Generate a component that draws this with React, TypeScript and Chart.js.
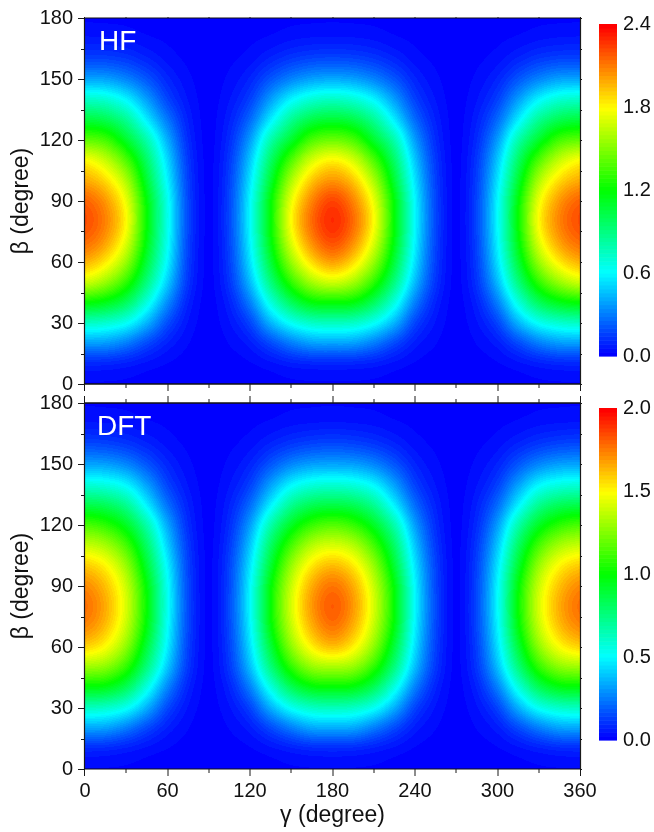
import React, { useEffect, useRef } from "react";
import { Chart, registerables } from "chart.js";

Chart.register(...registerables);

const gammaValues = [0, 15, 30, 45, 60, 75, 90, 105, 120, 135, 150, 165, 180, 195, 210, 225, 240, 255, 270, 285, 300, 315, 330, 345, 360];
const betaValues = [0, 10, 20, 30, 40, 50, 60, 70, 80, 90, 100, 110, 120, 130, 140, 150, 160, 170, 180];

// HF: values along beta, at given gamma
const hfEdge = [.01, .09, .37, .74, 1.2, 1.68, 1.98, 2.15, 2.22, 2.17, 2.0, 1.8, 1.42, 1.06, .73, .39, .16, .05, .01];
const hfEdge15 = [.01, .085, .36, .71, 1.14, 1.55, 1.84, 2.02, 2.09, 2.04, 1.88, 1.66, 1.35, 1.01, .7, .38, .155, .047, .009];
const hf30 = [.008, .065, .29, .62, .98, 1.3, 1.55, 1.72, 1.8, 1.75, 1.6, 1.38, 1.1, .85, .58, .31, .13, .037, .008];
const hf45 = [.004, .035, .17, .42, .67, .9, 1.06, 1.16, 1.2, 1.18, 1.08, .96, .79, .56, .37, .2, .08, .02, .004];
const hfEdge60 = [.002, .014, .07, .18, .33, .48, .58, .63, .65, .64, .58, .51, .41, .28, .16, .085, .033, .009, .002];
const hf60 = [.002, .012, .06, .16, .3, .44, .53, .58, .6, .59, .54, .47, .37, .25, .15, .08, .03, .008, .002];
const hf75 = [.001, .003, .016, .04, .075, .12, .145, .16, .17, .165, .15, .13, .1, .07, .042, .022, .008, .002, .001];
const hf90 = [0, .001, .003, .005, .006, .007, .008, .008, .008, .008, .008, .007, .006, .005, .004, .003, .002, .001, 0];
const hf165 = [.01, .08, .37, .73, 1.17, 1.58, 1.88, 2.07, 2.15, 2.09, 1.93, 1.7, 1.37, 1.03, .7, .38, .16, .047, .009];
const hf180 = [.01, .085, .38, .75, 1.2, 1.68, 2.02, 2.22, 2.3, 2.24, 2.05, 1.82, 1.45, 1.08, .74, .4, .17, .05, .01];

// DFT: values along beta, at given gamma
const dftEdge = [.01, .08, .32, .62, .97, 1.3, 1.58, 1.73, 1.78, 1.73, 1.6, 1.39, 1.14, .85, .57, .32, .14, .04, .01];
const dftEdge15 = [.01, .075, .31, .6, .95, 1.26, 1.49, 1.62, 1.66, 1.62, 1.51, 1.32, 1.08, .82, .55, .31, .13, .037, .009];
const dft30 = [.008, .055, .24, .52, .82, 1.08, 1.27, 1.38, 1.42, 1.39, 1.29, 1.13, .93, .71, .48, .26, .105, .03, .008];
const dft45 = [.004, .03, .14, .34, .55, .75, .88, .97, 1.0, .98, .9, .8, .66, .47, .31, .165, .065, .017, .004];
const dftEdge60 = [.002, .012, .055, .14, .26, .39, .47, .51, .53, .52, .48, .41, .33, .22, .13, .07, .027, .008, .002];
const dft60 = [.002, .01, .05, .13, .25, .37, .44, .48, .5, .49, .45, .39, .31, .21, .125, .065, .025, .007, .002];
const dft75 = [.001, .003, .013, .033, .065, .105, .125, .14, .145, .14, .13, .11, .085, .06, .035, .018, .007, .002, .001];
const dft90 = [0, .001, .003, .005, .006, .007, .008, .008, .008, .008, .008, .007, .006, .005, .004, .003, .002, .001, 0];
const dft165 = [.01, .075, .32, .61, .96, 1.28, 1.52, 1.65, 1.7, 1.66, 1.54, 1.35, 1.1, .83, .56, .31, .13, .037, .009];
const dft180 = [.01, .08, .33, .63, .98, 1.32, 1.62, 1.77, 1.82, 1.77, 1.63, 1.42, 1.16, .86, .58, .32, .14, .04, .01];

const hfGrid = [hfEdge, hfEdge15, hf30, hf45, hfEdge60, hf75, hf90, hf75, hf60, hf45, hf30, hf165, hf180, hf165, hf30, hf45, hf60, hf75, hf90, hf75, hf60, hf45, hf30, hfEdge15, hfEdge];
const dftGrid = [dftEdge, dftEdge15, dft30, dft45, dftEdge60, dft75, dft90, dft75, dft60, dft45, dft30, dft165, dft180, dft165, dft30, dft45, dft60, dft75, dft90, dft75, dft60, dft45, dft30, dftEdge15, dftEdge];

const xMajorTicks = [0, 60, 120, 180, 240, 300, 360];
const xMinorTicks = [30, 90, 150, 210, 270, 330];
const yMajorTicks = [0, 30, 60, 90, 120, 150, 180];
const yMinorTicks = [15, 45, 75, 105, 135, 165];

const FONT = '"Liberation Sans", Arial, sans-serif';
const W = 654;
const H = 832;
const LEVELS = 84;

function rainbow(t: number): [number, number, number] {
  const q = Math.min(LEVELS - 1, Math.max(0, Math.round(t * (LEVELS - 1)))) / (LEVELS - 1);
  const s = q * 4;
  if (s < 1) return [0, Math.round(255 * s), 255];
  if (s < 2) return [0, 255, Math.round(255 * (2 - s))];
  if (s < 3) return [Math.round(255 * (s - 2)), 255, 0];
  return [255, Math.round(255 * (4 - s)), 0];
}

function cubic(a: number, b: number, c: number, d: number, t: number) {
  return b + 0.5 * t * (c - a + t * (2 * a - 5 * b + 4 * c - d + t * (3 * (b - c) + d - a)));
}

function locate(list: number[], v: number): [number, number] {
  let i = 0;
  while (i < list.length - 2 && v >= list[i + 1]) i++;
  return [i, (v - list[i]) / (list[i + 1] - list[i])];
}

function sample(grid: number[][], gamma: number, beta: number) {
  const [i, tx] = locate(gammaValues, gamma);
  const [j, ty] = locate(betaValues, beta);
  const nx = gammaValues.length - 1;
  const ny = betaValues.length - 1;
  const column = (c: number) => {
    const row = grid[Math.max(0, Math.min(nx, c))];
    const at = (k: number) => row[Math.max(0, Math.min(ny, k))];
    return cubic(at(j - 1), at(j), at(j + 1), at(j + 2), ty);
  };
  return cubic(column(i - 1), column(i), column(i + 1), column(i + 2), tx);
}

const heatPlugin = {
  id: "heat",
  beforeDatasetsDraw(chart: any, _a: any, opts: any) {
    const { ctx, chartArea: a, scales } = chart;
    const x0 = Math.round(a.left);
    const y0 = Math.round(a.top);
    const w = Math.round(a.right) - x0;
    const h = Math.round(a.bottom) - y0;
    const img = ctx.createImageData(w, h);
    for (let py = 0; py < h; py++) {
      const beta = scales.y.getValueForPixel(y0 + py + 0.5);
      for (let px = 0; px < w; px++) {
        const gamma = scales.x.getValueForPixel(x0 + px + 0.5);
        const [r, g, b] = rainbow(sample(opts.grid, gamma, beta) / opts.max);
        const o = (py * w + px) * 4;
        img.data[o] = r;
        img.data[o + 1] = g;
        img.data[o + 2] = b;
        img.data[o + 3] = 255;
      }
    }
    ctx.putImageData(img, x0, y0);
  },
};

const framePlugin = {
  id: "frame",
  afterDatasetsDraw(chart: any, _a: any, opts: any) {
    const { ctx, chartArea: a, scales } = chart;
    const line = (x1: number, y1: number, x2: number, y2: number, w = 1, c = "#1a1a1a") => {
      ctx.strokeStyle = c;
      ctx.lineWidth = w;
      ctx.beginPath();
      ctx.moveTo(x1, y1);
      ctx.lineTo(x2, y2);
      ctx.stroke();
    };
    ctx.save();
    line(a.left - 0.5, a.top, a.left - 0.5, a.bottom, 1.2);
    line(a.right + 0.5, a.top, a.right + 0.5, a.bottom, 1.2);
    line(a.left - 1, a.top, a.right + 1, a.top, opts.topWidth, "#111");
    line(a.left - 1, a.bottom, a.right + 1, a.bottom, opts.bottomWidth, "#111");
    const xTick = (v: number, len: number, topLen: number) => {
      const p = Math.round(scales.x.getPixelForValue(v)) - (v === 0 ? 0.5 : 0) + (v === 360 ? 0.5 : 0);
      line(p, a.bottom, p, a.bottom + len);
      line(p, a.top, p, a.top - topLen);
    };
    const yTick = (v: number, len: number) => {
      const p = Math.round(scales.y.getPixelForValue(v)) + 0.5;
      line(a.left, p, a.left - len, p);
      line(a.right, p, a.right + 2, p);
    };
    xMajorTicks.forEach((v) => xTick(v, 7, opts.topMajor));
    xMinorTicks.forEach((v) => xTick(v, 4, opts.topMinor));
    yMajorTicks.forEach((v) => yTick(v, 7));
    yMinorTicks.forEach((v) => yTick(v, 4));
    ctx.fillStyle = "#fff";
    ctx.font = `28px ${FONT}`;
    ctx.textBaseline = "alphabetic";
    ctx.textAlign = "left";
    ctx.fillText(opts.label, a.left + opts.labelDx, a.top + 32);
    ctx.restore();
  },
};

const barPlugin = {
  id: "colorbar",
  beforeDatasetsDraw(chart: any, _a: any, opts: any) {
    const { ctx, chartArea: a, scales } = chart;
    for (let i = 0; i < LEVELS; i++) {
      const lo = (i / LEVELS) * opts.max;
      const hi = ((i + 1) / LEVELS) * opts.max;
      const [r, g, b] = rainbow(i / (LEVELS - 1));
      const top = scales.y.getPixelForValue(hi);
      const bot = scales.y.getPixelForValue(lo);
      ctx.fillStyle = `rgb(${r},${g},${b})`;
      ctx.fillRect(a.left, top, a.right - a.left, bot - top + 0.6);
    }
  },
};

function panelConfig(grid: number[][], max: number, label: string, top: number, bottom: number, last: boolean): any {
  const points: any[] = [];
  gammaValues.forEach((g, i) => betaValues.forEach((b, j) => points.push({ x: g, y: b, v: grid[i][j] })));
  return {
    type: "scatter",
    data: { datasets: [{ data: points, pointRadius: 0, pointHoverRadius: 0, showLine: false }] },
    plugins: [heatPlugin, framePlugin],
    options: {
      animation: false,
      responsive: false,
      events: [],
      layout: { autoPadding: false, padding: { left: 8, right: W - 580, top, bottom: H - bottom - 60 } },
      plugins: {
        legend: { display: false },
        tooltip: { enabled: false },
        heat: { grid, max },
        frame: { label, labelDx: last ? 12 : 14, topWidth: last ? 1.6 : 1, bottomWidth: last ? 1 : 1.6, topMajor: last ? 7 : 1, topMinor: last ? 4 : 1 },
      },
      scales: {
        x: {
          type: "linear",
          min: 0,
          max: 360,
          grid: { display: false, drawTicks: false },
          border: { display: false },
          afterFit: (s: any) => { s.height = 60; s.paddingLeft = 0; s.paddingRight = 0; },
          ticks: {
            display: last,
            stepSize: 60,
            padding: 10,
            color: "#111",
            font: { family: FONT, size: 20 },
            maxRotation: 0,
            autoSkip: false,
          },
          title: { display: last, text: "γ (degree)", color: "#111", font: { family: FONT, size: 23 }, padding: { top: 0, bottom: 0 } },
        },
        y: {
          type: "linear",
          min: 0,
          max: 180,
          grid: { display: false, drawTicks: false },
          border: { display: false },
          afterFit: (s: any) => { s.width = 77; s.paddingTop = 0; s.paddingBottom = 0; },
          ticks: { stepSize: 30, padding: 12, color: "#111", font: { family: FONT, size: 20 }, autoSkip: false },
          title: { display: true, text: "β (degree)", color: "#111", font: { family: FONT, size: 23 }, padding: { top: 0, bottom: 0 } },
        },
      },
    },
  };
}

function barConfig(max: number, step: number, top: number, bottom: number): any {
  return {
    type: "scatter",
    data: { datasets: [{ data: [], pointRadius: 0 }] },
    plugins: [barPlugin],
    options: {
      animation: false,
      responsive: false,
      events: [],
      layout: { autoPadding: false, padding: { left: 599, right: 0, top, bottom: H - bottom } },
      plugins: { legend: { display: false }, tooltip: { enabled: false }, colorbar: { max } },
      scales: {
        x: { display: false, min: 0, max: 1 },
        y: {
          type: "linear",
          position: "right",
          min: 0,
          max,
          grid: { display: false, drawTicks: false },
          border: { display: false },
          afterFit: (s: any) => { s.width = W - 617; s.paddingTop = 0; s.paddingBottom = 0; },
          ticks: {
            stepSize: step,
            padding: 6,
            color: "#111",
            font: { family: FONT, size: 20 },
            callback: (v: any) => Number(v).toFixed(1),
          },
        },
      },
    },
  };
}

export default function App() {
  const a = useRef<HTMLCanvasElement>(null);
  const b = useRef<HTMLCanvasElement>(null);
  const c = useRef<HTMLCanvasElement>(null);
  const d = useRef<HTMLCanvasElement>(null);
  useEffect(() => {
    const charts = [
      new Chart(a.current!, panelConfig(hfGrid, 2.4, "HF", 18, 384, false)),
      new Chart(b.current!, panelConfig(dftGrid, 2.0, "DFT", 403, 769, true)),
      new Chart(c.current!, barConfig(2.4, 0.6, 24, 356)),
      new Chart(d.current!, barConfig(2.0, 0.5, 408, 740)),
    ];
    return () => charts.forEach((ch) => ch.destroy());
  }, []);
  const style: React.CSSProperties = { position: "absolute", left: 0, top: 0 };
  return (
    <div style={{ position: "absolute", left: 0, top: 0, width: W, height: H, background: "#fff", overflow: "hidden" }}>
      <canvas ref={a} width={W} height={H} style={style} />
      <canvas ref={b} width={W} height={H} style={style} />
      <canvas ref={c} width={W} height={H} style={style} />
      <canvas ref={d} width={W} height={H} style={style} />
    </div>
  );
}
